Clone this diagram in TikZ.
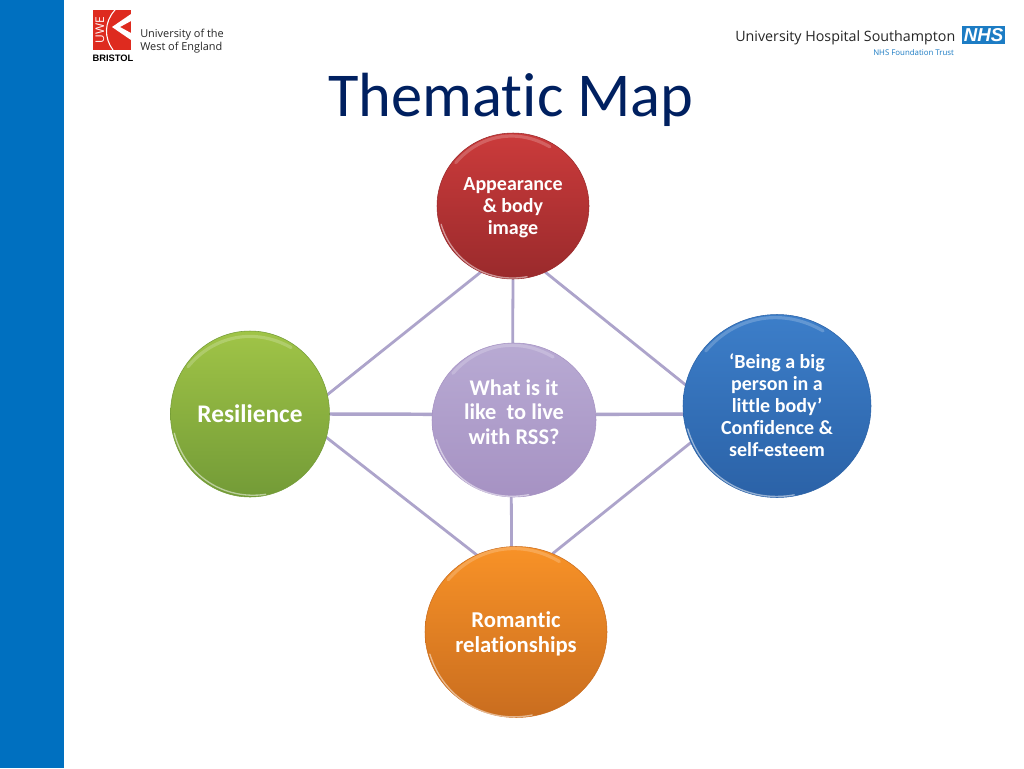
\documentclass[tikz,border=0pt]{standalone}
\usepackage{fontspec}
\usepackage{tikz}
\usetikzlibrary{shapes.geometric,backgrounds}
\setmainfont[Ligatures=NoCommon]{Carlito}
\newfontfamily\logofont{Open Sans}
\newfontfamily\bristolfont{Liberation Sans}
\definecolor{sidebar}{HTML}{0070C0}
\definecolor{titleblue}{HTML}{002060}
\definecolor{linkpurple}{HTML}{ADA4CB}
\definecolor{uwered}{HTML}{DE2B1F}
\definecolor{nhsblue}{HTML}{1C7CC4}
\definecolor{red1}{HTML}{CB3B3B}
\definecolor{red2}{HTML}{9A2A2C}
\definecolor{purple1}{HTML}{B8AAD3}
\definecolor{purple2}{HTML}{A692C3}
\definecolor{green1}{HTML}{A0C447}
\definecolor{green2}{HTML}{739B37}
\definecolor{blue1}{HTML}{3C7EC9}
\definecolor{blue2}{HTML}{2B62A7}
\definecolor{orange1}{HTML}{F89227}
\definecolor{orange2}{HTML}{C96D1F}

\begin{document}
\begin{tikzpicture}[x=0.75pt,y=-0.75pt,
		node_style/.style={ellipse,inner sep=0pt,outer sep=0pt,align=center,text=white,font=\bfseries\fontsize{15}{16.5}\selectfont},
		edge_style/.style={draw=linkpurple,line width=2.1pt},
		rim_style/.style={draw=white,line width=1pt,opacity=0.5,line cap=round},
		gloss_style/.style={draw=white,line width=2.4pt,opacity=0.2,line cap=round},
		logo_style/.style={inner sep=0pt,anchor=west,text=black!85,font=\logofont\fontsize{8.2}{9.8}\selectfont}]
		
		\fill[sidebar] (0,0) rectangle (64,768);
		
		% title
		\node[text=titleblue,font=\fontsize{46.8}{50}\selectfont,inner sep=0pt] (title) at (511,100) {Thematic Map};
		
		% left logo
		\fill[uwered] (93,10) rectangle (131,50);
		\draw[white,line width=0.8pt] (115,10) .. controls (104,22) and (104,38) .. (113,50);
		\fill[white] (131,14) -- (112,27) -- (131,40) -- (131,33) -- (120,27) -- (131,21) -- cycle;
		\node[inner sep=0pt,text=white,rotate=90,font=\logofont\fontsize{9}{9}\selectfont] (uwe) at (100,30) {UWE};
		\node[inner sep=0pt,font=\bristolfont\bfseries\fontsize{7}{8}\selectfont] (bristol) at (113,58) {BRISTOL};
		\node[logo_style,align=left] (uwetext) at (140,41) {University of the\\West of England};
		
		% right logo
		\node[logo_style,font=\logofont\fontsize{10.7}{12}\selectfont] (uhs) at (735,38) {University Hospital Southampton};
		\node[logo_style,text=nhsblue,font=\logofont\fontsize{5.9}{6}\selectfont] (trust) at (873,53) {NHS Foundation Trust};
		\node[fill=nhsblue,text=white,inner sep=0pt,minimum width=32.5pt,minimum height=14pt,font=\bristolfont\bfseries\itshape\fontsize{14}{14}\selectfont] (nhs) at (983.5,35) {NHS};
		
		% circles
		\node[node_style,minimum width=114pt,minimum height=109.5pt,text depth=0pt,top color=red1,bottom color=red2,draw=red2] (n0) at (513,206) {Appearance\\\& body\\image};
		\node[node_style,minimum width=123pt,minimum height=115.5pt,text depth=12pt,font=\bfseries\fontsize{16.8}{18.4}\selectfont,top color=purple1,bottom color=purple2,draw=purple2] (n1) at (514,420) {What is it\\like\ \ to live\\with RSS?};
		\node[node_style,minimum width=119.25pt,minimum height=124.5pt,font=\bfseries\fontsize{19}{20}\selectfont,top color=green1,bottom color=green2,draw=green2] (n2) at (250,414) {Resilience};
		\node[node_style,minimum width=141pt,minimum height=137.25pt,text depth=1.5pt,top color=blue1,bottom color=blue2,draw=blue2] (n3) at (777,406) {‘Being a big\\person in a\\little body’\\Confidence \&\\self-esteem};
		\node[node_style,minimum width=136.5pt,minimum height=128.25pt,text depth=0pt,font=\bfseries\fontsize{17}{18.4}\selectfont,top color=orange1,bottom color=orange2,draw=orange2] (n4) at (516,632) {Romantic\\relationships};
		
		% highlights on the rims
		\foreach \n in {n0,n1,n2,n3,n4}{
			\draw[rim_style] ([xshift=1pt,yshift=1pt]\n.195) to[bend right=42] ([xshift=1pt,yshift=1pt]\n.280);
			\draw[gloss_style] ([yshift=-3.5pt]\n.60) to[bend right=40] ([yshift=-3.5pt]\n.140);
		}
		
		% connectors go behind the circles
		\begin{pgfonlayer}{background}
		\fill[white] (0,0) rectangle (1024,768);
		\draw[edge_style]  (n0.244) edge (n2.14);
		\draw[edge_style]  (n0.-64) edge (n3.167);
		\draw[edge_style]  (n2.-17) edge (n4.117);
		\draw[edge_style]  (n3.203) edge (n4.65);
		\draw[edge_style]  (n0.south) edge (n1.91);
		\draw[edge_style]  (n1.268) edge (n4.93);
		\draw[edge_style,line width=2.6pt]  (n2.0) edge (n1.176);
		\draw[edge_style,line width=2.6pt]  (n1.4) edge (n3.185);
		\end{pgfonlayer}

		\end{tikzpicture}
\end{document}
